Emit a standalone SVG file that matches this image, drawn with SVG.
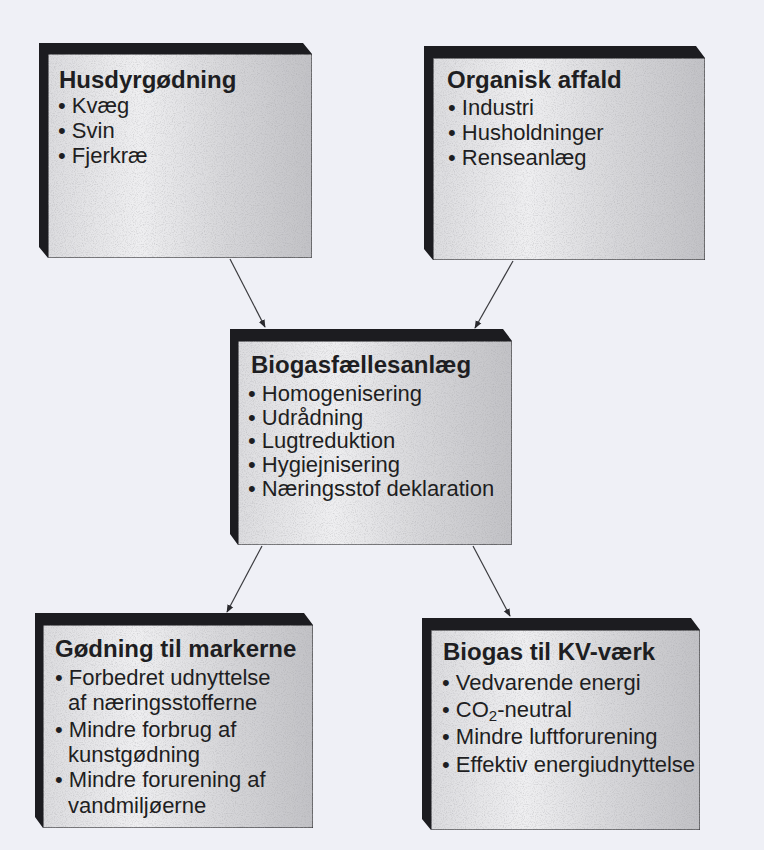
<svg xmlns="http://www.w3.org/2000/svg" width="764" height="850" viewBox="0 0 764 850">
<style>
.frame{fill:#1c1c20}
.face{stroke:#2a2a2e;stroke-width:1.2}
.t{font-family:"Liberation Sans",Arial,sans-serif;font-weight:bold;font-size:24px;fill:#1e1e22}
.i{font-family:"Liberation Sans",Arial,sans-serif;font-size:22px;fill:#1e1e22}
.c{stroke:#3a3a3e;stroke-width:1.2;fill:none}
</style>
<defs>
<linearGradient id="g" x1="0" y1="0" x2="1" y2="0">
<stop offset="0" stop-color="#dcdcdf"/>
<stop offset="0.35" stop-color="#efeff1"/>
<stop offset="0.65" stop-color="#d8d8db"/>
<stop offset="1" stop-color="#c2c2c6"/>
</linearGradient>
<filter id="tex" x="0" y="0" width="1" height="1">
<feTurbulence type="fractalNoise" baseFrequency="0.9" numOctaves="2" seed="3" result="n"/>
<feColorMatrix in="n" type="matrix" values="0 0 0 0 0.35  0 0 0 0 0.35  0 0 0 0 0.37  0 0 0 -1 0.55" result="m"/>
<feComposite in="m" in2="SourceGraphic" operator="in" result="s"/>
<feMerge><feMergeNode in="SourceGraphic"/><feMergeNode in="s"/></feMerge>
</filter>
<marker id="ah" viewBox="0 0 10 10" refX="9" refY="5" markerWidth="8" markerHeight="8" markerUnits="userSpaceOnUse" orient="auto">
<path d="M0,1 L10,5 L0,9 Z" fill="#2a2a2e"/>
</marker>
</defs>
<rect width="764" height="850" fill="#eff0f6"/>

<g id="connectors">
<line class="c" x1="230" y1="259" x2="265" y2="327" marker-end="url(#ah)"/>
<line class="c" x1="513" y1="261" x2="475" y2="328" marker-end="url(#ah)"/>
<line class="c" x1="262" y1="546" x2="227" y2="612" marker-end="url(#ah)"/>
<line class="c" x1="473" y1="546" x2="510" y2="616" marker-end="url(#ah)"/>
</g>

<g id="husdyrgodning">
<polygon class="frame" points="39,43 303,43 312,54 48,54 48,258 39,247"/>
<rect class="face" x="48" y="54" width="264" height="204" fill="url(#g)" filter="url(#tex)"/>
<text class="t" x="59" y="88">Husdyrgødning</text>
<text class="i" x="58" y="113">• Kvæg</text>
<text class="i" x="58" y="138">• Svin</text>
<text class="i" x="58" y="163">• Fjerkræ</text>
</g>

<g id="organisk-affald">
<polygon class="frame" points="424,46 696,46 705,58 433,58 433,260 424,249"/>
<rect class="face" x="433" y="58" width="272" height="202" fill="url(#g)" filter="url(#tex)"/>
<text class="t" x="447" y="88">Organisk affald</text>
<text class="i" x="448" y="115">• Industri</text>
<text class="i" x="448" y="140">• Husholdninger</text>
<text class="i" x="448" y="165">• Renseanlæg</text>
</g>

<g id="biogasfaellesanlaeg">
<polygon class="frame" points="230,329 503,329 512,341 238,341 238,545 230,534"/>
<rect class="face" x="238" y="341" width="274" height="204" fill="url(#g)" filter="url(#tex)"/>
<text class="t" x="251" y="373">Biogasfællesanlæg</text>
<text class="i" x="248" y="401">• Homogenisering</text>
<text class="i" x="248" y="425">• Udrådning</text>
<text class="i" x="248" y="448">• Lugtreduktion</text>
<text class="i" x="248" y="472">• Hygiejnisering</text>
<text class="i" x="248" y="496">• Næringsstof deklaration</text>
</g>

<g id="godning-til-markerne">
<polygon class="frame" points="35,613 304,613 313,625 43,625 43,828 35,817"/>
<rect class="face" x="43" y="625" width="270" height="203" fill="url(#g)" filter="url(#tex)"/>
<text class="t" x="55" y="657">Gødning til markerne</text>
<text class="i" x="55" y="685">• Forbedret udnyttelse</text>
<text class="i" x="68" y="710">af næringsstofferne</text>
<text class="i" x="55" y="737">• Mindre forbrug af</text>
<text class="i" x="68" y="762">kunstgødning</text>
<text class="i" x="55" y="787">• Mindre forurening af</text>
<text class="i" x="68" y="813">vandmiljøerne</text>
</g>

<g id="biogas-til-kv-vaerk">
<polygon class="frame" points="422,618 691,618 700,630 431,630 431,830 422,819"/>
<rect class="face" x="431" y="630" width="269" height="200" fill="url(#g)" filter="url(#tex)"/>
<text class="t" x="443" y="660">Biogas til KV-værk</text>
<text class="i" x="442" y="690">• Vedvarende energi</text>
<text class="i" x="442" y="717">• CO<tspan font-size="15" dy="4">2</tspan><tspan dy="-4">-neutral</tspan></text>
<text class="i" x="442" y="744">• Mindre luftforurening</text>
<text class="i" x="442" y="772">• Effektiv energiudnyttelse</text>
</g>
</svg>
